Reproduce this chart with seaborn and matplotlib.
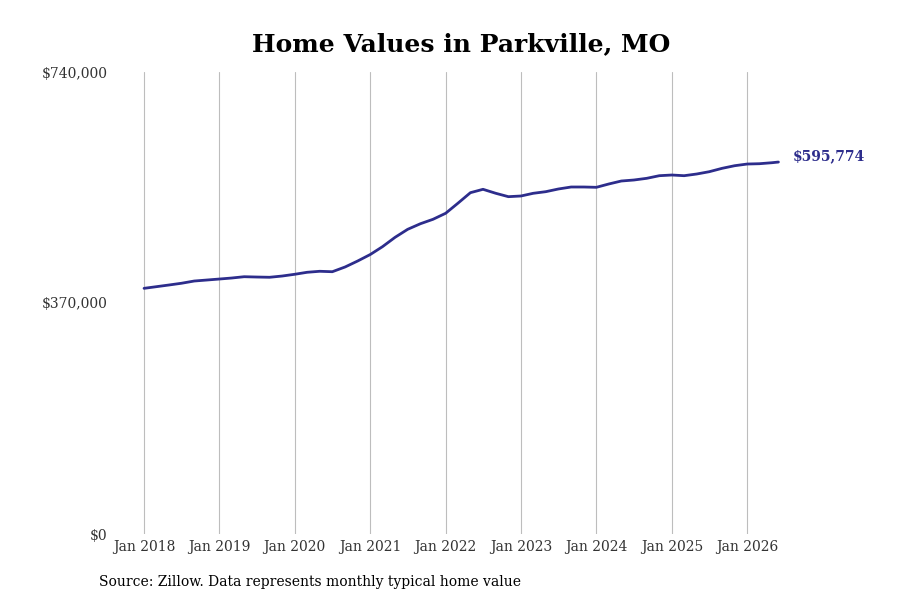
import pandas as pd
import matplotlib.pyplot as plt
import matplotlib.dates as mdates
import matplotlib.ticker as mticker
import seaborn as sns

# Typical home value, every two months (last point = Jun 2026)
dates = [f"{y}-{m:02d}-01" for y in range(2018, 2026) for m in (1, 3, 5, 7, 9, 11)]
dates += ["2026-01-01", "2026-03-01", "2026-05-01", "2026-06-01"]
values = [393500, 396100, 398800, 401600, 405200, 406800,   # 2018
          408400, 410000, 412100, 411600, 411200, 413200,   # 2019
          416000, 419200, 420800, 420100, 427700, 437300,   # 2020
          447700, 460200, 475200, 488000, 497000, 504100,   # 2021
          513700, 529700, 546700, 552100, 545700, 540300,   # 2022
          541400, 545700, 548300, 552600, 555800, 555800,   # 2023
          555300, 560600, 565400, 567000, 569700, 573900,   # 2024
          575000, 573900, 576600, 580300, 585700, 589900,   # 2025
          592600, 593100, 594700, 595774]                   # 2026
tick_years = list(range(2018, 2027))
y_ticks = [0, 370000, 740000]

df = pd.DataFrame({"date": pd.to_datetime(dates), "value": values})

sns.set_style("white")
plt.rcParams["font.family"] = ["DejaVu Serif"]

line_color = "#2d2d8c"

fig = plt.figure(figsize=(9, 6), dpi=100)
ax = fig.add_axes([0.13, 0.11, 0.759, 0.77])

sns.lineplot(data=df, x="date", y="value", color=line_color, linewidth=2.0, ax=ax)

ax.set_ylim(0, 740000)
ax.set_xlim(pd.Timestamp("2017-08-23"), pd.Timestamp("2026-09-14"))
ax.set_yticks(y_ticks)
ax.yaxis.set_major_formatter(mticker.FuncFormatter(lambda v, p: f"${v:,.0f}"))
ax.set_xticks([pd.Timestamp(f"{y}-01-01") for y in tick_years])
ax.xaxis.set_major_formatter(mdates.DateFormatter("Jan %Y"))
ax.tick_params(axis="both", length=0, labelsize=10, colors="#333333")
ax.tick_params(axis="x", pad=4)
ax.tick_params(axis="y", pad=7)
ax.grid(axis="x", color="#bdbdbd", linewidth=0.8)
ax.grid(axis="y", visible=False)
for s in ax.spines.values():
    s.set_visible(False)
ax.set_xlabel("")
ax.set_ylabel("")

last = df.iloc[-1]
ax.annotate(f"${last['value']:,.0f}", xy=(last["date"], last["value"]),
            xytext=(10, 4), textcoords="offset points", va="center", ha="left",
            fontsize=10, fontweight="bold", color=line_color)

fig.text(0.512, 0.926, "Home Values in Parkville, MO", ha="center", va="center",
         fontsize=18, fontweight="bold", color="black")
fig.text(0.11, 0.03, "Source: Zillow. Data represents monthly typical home value",
         ha="left", va="center", fontsize=10, color="black")

plt.savefig("out.png", dpi=100)
